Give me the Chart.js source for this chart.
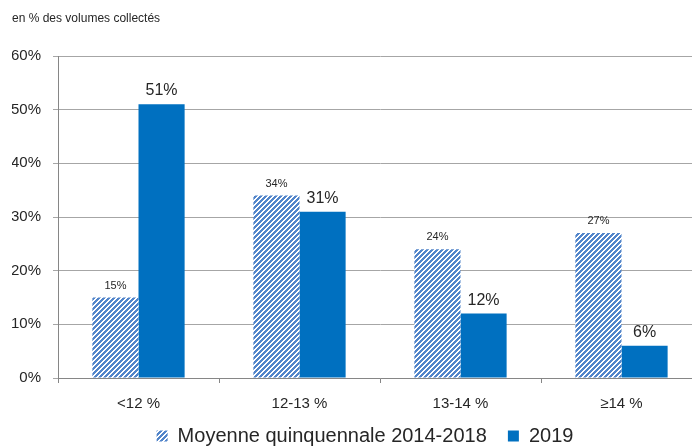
<!DOCTYPE html>
<html>
<head>
<meta charset="utf-8">
<script src="https://cdn.jsdelivr.net/npm/chart.js@4"></script>
<style>
  html, body { margin: 0; padding: 0; background: #fff; overflow: hidden; }
  #wrap { position: relative; width: 708px; height: 456px; }
</style>
</head>
<body>
<div id="wrap"><canvas id="chart"></canvas></div>
<script>
// Data
var categories = ['<12 %', '12-13 %', '13-14 %', '≥14 %'];
var moyenne = [15, 34, 24, 27];   // Moyenne quinquennale 2014-2018
var annee2019 = [51, 31, 12, 6];  // 2019
var seriesNames = ['Moyenne quinquennale 2014-2018', '2019'];
var yMax = 60, yStep = 10;
var unitNote = 'en % des volumes collectés';

var FONT = '"Liberation Sans", Arial, sans-serif';

// diagonal hatch "/" blue on white
function hatch() {
  var n = 5, c = document.createElement('canvas');
  c.width = n; c.height = n;
  var g = c.getContext('2d');
  g.fillStyle = '#fff'; g.fillRect(0, 0, n, n);
  g.fillStyle = '#5285ca';
  for (var x = 0; x < n; x++) for (var y = 0; y < n; y++) {
    if ((x + y) % n < 3) g.fillRect(x, y, 1, 1);
  }
  return document.getElementById('chart').getContext('2d').createPattern(c, 'repeat');
}

// value labels above bars + unit note top-left
var barLabels = {
  id: 'barLabels',
  afterLayout: function(chart) {
    // legend sits a little right of centre in the original
    chart.legend.left += 8;
    chart.legend.right += 8;
  },
  afterDatasetsDraw: function(chart) {
    var ctx = chart.ctx;
    ctx.save();
    ctx.fillStyle = '#262626';
    ctx.textBaseline = 'alphabetic';
    ctx.textAlign = 'left';
    ctx.font = '12px ' + FONT;
    ctx.fillText(unitNote, 12, 22);
    ctx.textAlign = 'center';
    chart.data.datasets.forEach(function(ds, i) {
      var meta = chart.getDatasetMeta(i);
      ctx.font = (i === 0 ? '11px ' : '16px ') + FONT;
      meta.data.forEach(function(bar, j) {
        ctx.fillText(ds.data[j] + '%', bar.x, bar.y - 9);
      });
    });
    ctx.restore();
  }
};

new Chart(document.getElementById('chart'), {
  type: 'bar',
  data: {
    labels: categories,
    datasets: [
      { label: seriesNames[0], data: moyenne, backgroundColor: hatch(), borderWidth: 0 },
      { label: seriesNames[1], data: annee2019, backgroundColor: '#0070c0', borderWidth: 0 }
    ]
  },
  options: {
    responsive: true, maintainAspectRatio: false, animation: false,
    categoryPercentage: 0.573, barPercentage: 1,
    layout: { padding: { left: 12, right: 6, top: 56, bottom: 0 } },
    plugins: {
      tooltip: { enabled: false },
      title: { display: false },
      legend: {
        position: 'bottom',
        labels: {
          color: '#262626', font: { family: FONT, size: 20 },
          boxWidth: 11, boxHeight: 11, padding: 10,
          generateLabels: function(chart) {
            var items = Chart.defaults.plugins.legend.labels.generateLabels(chart);
            items[0].text = items[0].text + '  ';
            return items;
          }
        }
      }
    },
    scales: {
      x: {
        afterFit: function(s) { s.height = 38; },
        grid: { display: true, drawOnChartArea: false, tickLength: 5, color: '#868686' },
        border: { color: '#868686' },
        ticks: { color: '#262626', font: { family: FONT, size: 15 }, padding: 12 }
      },
      y: {
        min: 0, max: yMax,
        afterFit: function(s) { s.width = 46; },
        grid: { color: '#a6a6a6', tickLength: 5 },
        border: { color: '#868686' },
        ticks: {
          stepSize: yStep, color: '#262626', padding: 12,
          font: { family: FONT, size: 15 },
          callback: function(v) { return v + '%'; }
        }
      }
    }
  },
  plugins: [barLabels]
});
</script>
</body>
</html>
